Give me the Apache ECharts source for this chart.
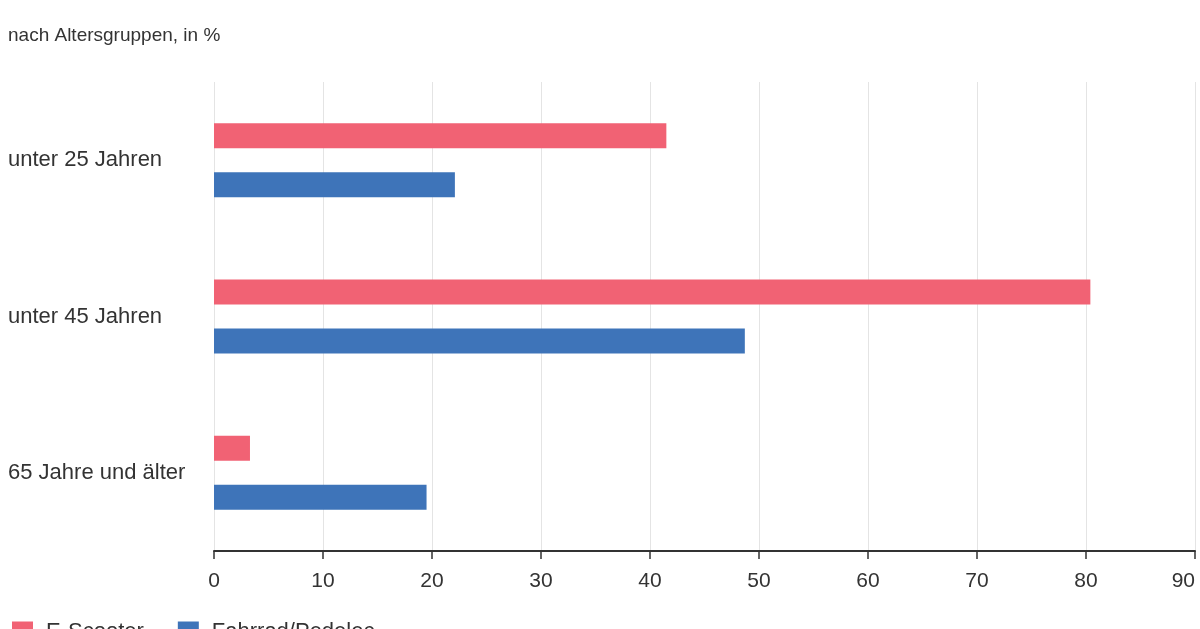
<!DOCTYPE html>
<html><head><meta charset="utf-8">
<script src="https://cdn.jsdelivr.net/npm/echarts@6/dist/echarts.min.js"></script>
<style>html,body{margin:0;padding:0;background:#fff}#c{width:1200px;height:629px}</style>
</head><body><div id="c"></div>
<script>
const categories = ['unter 25 Jahren', 'unter 45 Jahren', '65 Jahre und älter'];
const eScooter = [41.5, 80.4, 3.3];
const fahrrad = [22.1, 48.7, 19.5];
const seriesNames = ['E-Scooter', 'Fahrrad/Pedelec'];
const xTicks = [0, 10, 20, 30, 40, 50, 60, 70, 80, 90];

const font = '"Liberation Sans", Arial, sans-serif';
const chart = echarts.init(document.getElementById('c'), null, {renderer: 'canvas'});
chart.setOption({
  animation: false,
  backgroundColor: '#fff',
  title: {
    text: 'nach Altersgruppen, in %',
    left: 3, top: 21,
    textStyle: {fontFamily: font, fontSize: 19, fontWeight: 'normal', color: '#333'}
  },
  legend: {
    left: 7, top: 616,
    itemWidth: 21, itemHeight: 21, itemGap: 34,
    icon: 'rect',
    textStyle: {fontFamily: font, fontSize: 22, color: '#333', padding: [0, 0, 0, 8]},
    data: seriesNames
  },
  grid: {left: 214, right: 5, top: 82, bottom: 78, containLabel: false, outerBoundsMode: 'none'},
  xAxis: {
    type: 'value', min: xTicks[0], max: xTicks[xTicks.length - 1], interval: 10,
    axisLine: {show: true, lineStyle: {color: '#333', width: 2}},
    axisTick: {show: true, length: 8, lineStyle: {color: '#333', width: 1.5}},
    axisLabel: {fontFamily: font, fontSize: 21, color: '#333', margin: 20, alignMaxLabel: 'right'},
    splitLine: {show: true, lineStyle: {color: '#e4e4e4', width: 1}}
  },
  yAxis: {
    type: 'category', data: categories, inverse: true,
    axisLine: {show: false}, axisTick: {show: false},
    axisLabel: {fontFamily: font, fontSize: 22, color: '#333', align: 'left', margin: 206}
  },
  series: [
    {name: seriesNames[0], type: 'bar', data: eScooter, barWidth: 25, barGap: '96%',
     itemStyle: {color: '#f16274'}},
    {name: seriesNames[1], type: 'bar', data: fahrrad, barWidth: 25,
     itemStyle: {color: '#3e74b9'}}
  ]
});
</script></body></html>
